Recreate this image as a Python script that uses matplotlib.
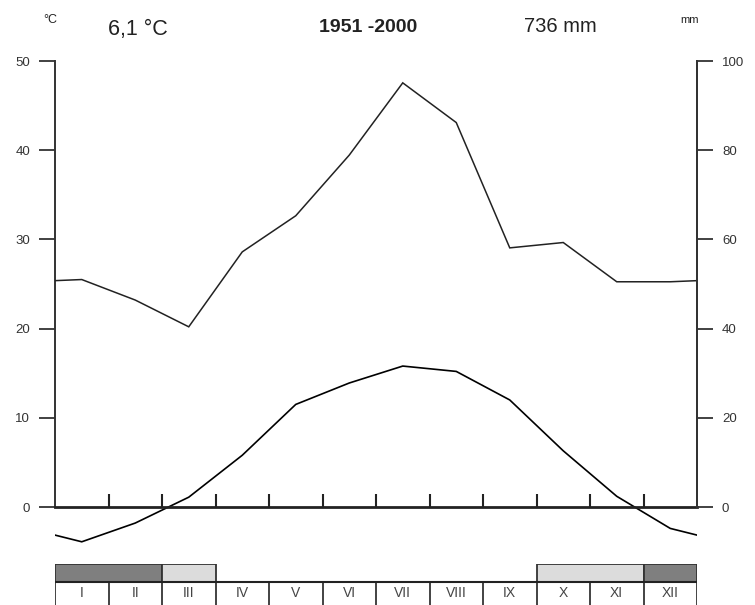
import numpy as np
import matplotlib.pyplot as plt

plt.rcParams['font.family'] = ['Liberation Sans', 'DejaVu Sans']

months = ['I', 'II', 'III', 'IV', 'V', 'VI', 'VII', 'VIII', 'IX', 'X', 'XI', 'XII']
temp = [-3.9, -1.8, 1.1, 5.8, 11.5, 13.9, 15.8, 15.2, 12.0, 6.3, 1.2, -2.4]
precip = [51.0, 46.4, 40.4, 57.2, 65.3, 78.9, 95.1, 86.2, 58.1, 59.3, 50.5, 50.5]
# 2 = frost every year, 1 = frost possible, 0 = frost-free
frost = [2, 2, 1, 0, 0, 0, 0, 0, 0, 1, 1, 2]
frost_colors = {2: '#7f7f7f', 1: '#dcdcdc'}

W, H = 755, 605
fig = plt.figure(figsize=(W / 100, H / 100), dpi=100)

def box(x0, y0, x1, y1):
    # pixel box (top-left origin) -> figure fraction rect
    return [x0 / W, 1 - y1 / H, (x1 - x0) / W, (y1 - y0) / H]

# wrap the yearly cycle so the lines reach both axis edges
x = np.concatenate([[0], np.arange(12) + 0.5, [12]])
t_edge = (temp[0] + temp[-1]) / 2
p_edge = (precip[0] + precip[-1]) / 2
t = np.concatenate([[t_edge], temp, [t_edge]])
p = np.concatenate([[p_edge], precip, [p_edge]])

ax = fig.add_axes(box(55, 61, 697, 551.6))
ax.set_xlim(0, 12)
ax.set_ylim(-5, 50)
ax.plot(x, t, color='black', lw=1.2, solid_joinstyle='miter')

ax.spines['top'].set_visible(False)
ax.spines['left'].set_bounds(0, 50)
ax.spines['right'].set_bounds(0, 50)
ax.spines['bottom'].set_position(('data', 0))
for s in ['left', 'right']:
    ax.spines[s].set_color('#333333')
    ax.spines[s].set_linewidth(1.4)
ax.spines['bottom'].set_color('#222222')
ax.spines['bottom'].set_linewidth(2)

ax.set_yticks(np.arange(0, 51, 10))
ax.tick_params(axis='y', direction='out', length=11.5, width=1.3, color='#333333',
               labelsize=9.5, labelcolor='#333333', pad=6.5)
ax.set_xticks(np.arange(1, 12))
ax.set_xticklabels([])
ax.tick_params(axis='x', direction='in', length=9.5, width=1.5, color='#222222')

ax2 = ax.twinx()
ax2.set_ylim(-10, 100)
ax2.plot(x, p, color='#222222', lw=1.1, solid_joinstyle='miter')
for s in ['top', 'left', 'bottom']:
    ax2.spines[s].set_visible(False)
ax2.spines['right'].set_bounds(0, 100)
ax2.spines['right'].set_color('#333333')
ax2.spines['right'].set_linewidth(1.4)
ax2.set_yticks(np.arange(0, 101, 20))
ax2.tick_params(axis='y', direction='out', length=11.5, width=1.3, color='#333333',
                labelsize=9.5, labelcolor='#333333', pad=6.5)

# frost bar: consecutive months of the same class share one block
axb = fig.add_axes(box(55, 564, 697, 608))
axb.set_xlim(0, 12)
axb.set_ylim(0, 44)
axb.axis('off')
start = 0
for i in range(1, 13):
    if i == 12 or frost[i] != frost[start]:
        f = frost[start]
        if f:
            axb.add_patch(plt.Rectangle((start, 26), i - start, 18,
                                        facecolor=frost_colors[f],
                                        edgecolor='#333333', lw=1.3))
        start = i

# month row
axb.plot([0, 12], [26, 26], color='#222222', lw=1.5)
for i in range(13):
    axb.plot([i, i], [0, 26], color='#222222', lw=1.2)
for i, m in enumerate(months):
    axb.text(i + 0.5, 15, m, ha='center', va='center', fontsize=10, color='#444444')

# header
fig.text(43 / W, 1 - 20 / H, '°C', fontsize=9, va='center', ha='left', color='#222222')
fig.text(108 / W, 1 - 29 / H, '6,1 °C', fontsize=15.5, va='center', ha='left', color='#222222')
fig.text(368 / W, 1 - 27 / H, '1951 -2000', fontsize=14, fontweight='bold',
         va='center', ha='center', color='#222222')
fig.text(524 / W, 1 - 27 / H, '736 mm', fontsize=14.5, va='center', ha='left', color='#222222')
fig.text(680 / W, 1 - 20 / H, 'mm', fontsize=8, va='center', ha='left', color='#222222')

fig.savefig('out.png', dpi=100)
